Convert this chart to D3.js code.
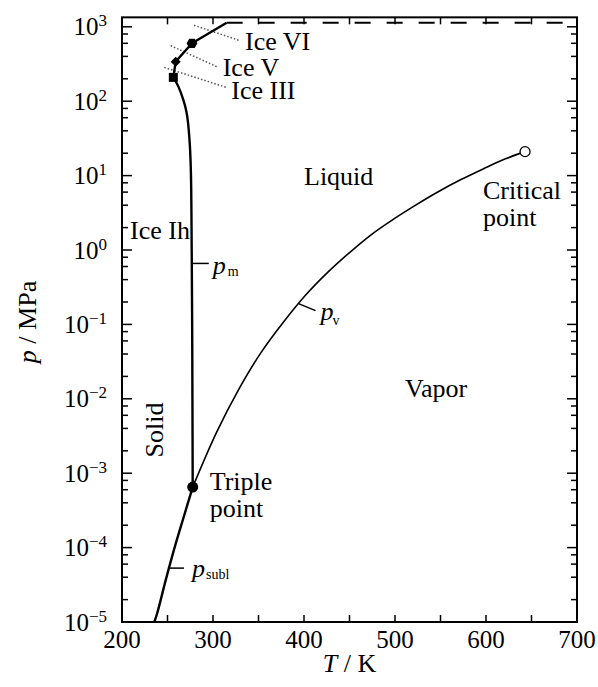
<!DOCTYPE html>
<html>
<head>
<meta charset="utf-8">
<script src="https://cdn.jsdelivr.net/npm/d3@7/dist/d3.min.js"></script>
<style>
    body { margin: 0; background: #fff; }
</style>
</head>
<body>
<div id="chart"></div>
<script>
//melting curve of ice Ih, triple point up to ice III [T (K), p (MPa)]
var meltIh = [[277.7, 6.5e-4], [277.4, 0.01], [277.1, 0.1], [276.6, 1], [275.8, 10], [274.6, 25],
    [272.2, 56], [270.5, 75], [267.4, 104], [262.0, 157], [256.4, 209]];

//melting curve above ice III (III, V, VI, upper end)
var meltHigh = [[256.4, 209], [259.0, 340], [276.9, 600], [315.0, 1135]];

//vapor pressure curve, triple point to critical point
var vapor = [[277.7, 6.5e-4], [303.9, 3.54e-3], [328.3, 1.34e-2], [352.7, 4.17e-2], [377.1, 0.106],
    [401.6, 0.246], [426.0, 0.50], [450.4, 0.932], [474.8, 1.64], [499.2, 2.64], [523.6, 4.08],
    [548.0, 6.12], [572.5, 8.84], [596.9, 12.3], [621.3, 16.8], [642.9, 21.0]];

//sublimation curve
var sublimation = [[235.5, 1e-5], [238.6, 1.3e-5], [248.4, 3.8e-5], [258.1, 1.03e-4], [267.9, 2.6e-4], [277.7, 6.5e-4]];

//special points
var triplePoint = [277.7, 6.5e-4];
var criticalPoint = [642.9, 21.0];
var iceIII = [256.4, 209];
var iceV = [259.0, 340];
var iceVI = [276.9, 600];
var upperLimit = [315.0, 1135];

//axis ticks
var xTickLabels = [200, 300, 400, 500, 600, 700];
var xMinorTicks = [250, 350, 450, 550, 650];
var yDecades = [-5, -4, -3, -2, -1, 0, 1, 2, 3];
var yMinorFactors = [2, 4, 6, 8];

var width = 598, height = 687;
var fontBig = 26, fontTick = 25;
var serif = "'Liberation Serif'";

//scales
var x = d3.scaleLinear().domain([200, 700]).range([122, 577]);
var y = d3.scaleLog().domain([1e-5, 1e3]).range([622, 26.8]);
var yTopValue = 1340;

var svg = d3.select('#chart').append('svg')
    .attr('width', width)
    .attr('height', height)
    .style('display', 'block');

//adds a serif text element
var text = function (sel) {
    return sel.append('text').style('font-family', serif);
};

var px = function (d) { return x(d[0]); };
var py = function (d) { return y(d[1]); };

//frame
var x0 = x(200), x1 = x(700), yb = y(1e-5), yt = y(yTopValue);

//dashed upper boundary
svg.append('line')
    .attr('x1', x(upperLimit[0])).attr('x2', x1)
    .attr('y1', y(upperLimit[1])).attr('y2', y(upperLimit[1]))
    .attr('stroke', '#000').attr('stroke-width', 2)
    .attr('stroke-dasharray', '16,16');

//y ticks, left and right
var yTickData = [];
yDecades.forEach(function (n) {
    yTickData.push({ v: Math.pow(10, n), major: true });
    if (n < 3)
        yMinorFactors.forEach(function (k) { yTickData.push({ v: k * Math.pow(10, n), major: false }); });
});
yTickData = yTickData.filter(function (d) { return d.v <= yTopValue; });

var tickG = svg.append('g').attr('stroke', '#000').attr('stroke-width', 1.5);
yTickData.forEach(function (d) {
    var len = d.major ? 10 : 6;
    tickG.append('line').attr('x1', x0).attr('x2', x0 + len).attr('y1', y(d.v)).attr('y2', y(d.v));
    tickG.append('line').attr('x1', x1).attr('x2', x1 - len).attr('y1', y(d.v)).attr('y2', y(d.v));
});

//x ticks, bottom and top
xTickLabels.concat(xMinorTicks).forEach(function (t) {
    tickG.append('line').attr('x1', x(t)).attr('x2', x(t)).attr('y1', yb).attr('y2', yb - 7);
    tickG.append('line').attr('x1', x(t)).attr('x2', x(t)).attr('y1', yt).attr('y2', yt + 7);
});

//frame box
svg.append('rect')
    .attr('x', x0).attr('y', yt)
    .attr('width', x1 - x0).attr('height', yb - yt)
    .attr('fill', 'none').attr('stroke', '#000').attr('stroke-width', 2);

//y tick labels
yDecades.forEach(function (n) {
    var t = text(svg)
        .attr('x', 107).attr('y', y(Math.pow(10, n)) + 8.5)
        .attr('text-anchor', 'end')
        .attr('font-size', fontTick);
    t.append('tspan').text('10');
    t.append('tspan').attr('font-size', 17).attr('dy', -9).text(String(n).replace('-', '\u2212'));
});

//x tick labels
xTickLabels.forEach(function (t) {
    text(svg)
        .attr('x', x(t)).attr('y', 648)
        .attr('text-anchor', 'middle')
        .attr('font-size', fontTick)
        .text(t);
});

//axis titles
var xTitle = text(svg)
    .attr('x', (x0 + x1) / 2).attr('y', 672)
    .attr('text-anchor', 'middle')
    .attr('font-size', fontBig);
xTitle.append('tspan').attr('font-style', 'italic').text('T');
xTitle.append('tspan').text(' / K');

var yTitle = text(svg)
    .attr('transform', 'translate(36,322) rotate(-90)')
    .attr('text-anchor', 'middle')
    .attr('font-size', fontBig);
yTitle.append('tspan').attr('font-style', 'italic').text('p');
yTitle.append('tspan').text(' / MPa');

//leader lines for ice phases
var dotted = svg.append('g')
    .attr('stroke', '#555').attr('stroke-width', 1.5)
    .attr('stroke-dasharray', '1.5,2');
var addLeader = function (pt, a, b) {
    dotted.append('line')
        .attr('x1', x(pt[0]) + a[0]).attr('y1', y(pt[1]) + a[1])
        .attr('x2', x(pt[0]) + b[0]).attr('y2', y(pt[1]) + b[1]);
};
addLeader(iceIII, [-9, -10], [53, 10]);
addLeader(iceV, [-5, -16], [41, 5]);
addLeader(iceVI, [2, -18], [47, -3]);

//curves
var smooth = d3.line().x(px).y(py).curve(d3.curveCatmullRom);
var straight = d3.line().x(px).y(py);

svg.append('path').datum(vapor)
    .attr('d', smooth).attr('fill', 'none').attr('stroke', '#000').attr('stroke-width', 1.6);
svg.append('path').datum(sublimation)
    .attr('d', smooth).attr('fill', 'none').attr('stroke', '#000').attr('stroke-width', 2.4);
svg.append('path').datum(meltIh)
    .attr('d', smooth).attr('fill', 'none').attr('stroke', '#000').attr('stroke-width', 2.4);
svg.append('path').datum(meltHigh)
    .attr('d', straight).attr('fill', 'none').attr('stroke', '#000').attr('stroke-width', 2.4)
    .attr('stroke-linejoin', 'round');

//curve label leaders
var leaderG = svg.append('g').attr('stroke', '#000').attr('stroke-width', 1.5);
var labelCurve = function (pt, dx, dy, sub, tx, ty, sx, sy) {
    var cx = x(pt[0]), cy = y(pt[1]);
    leaderG.append('line').attr('x1', cx).attr('y1', cy).attr('x2', cx + dx).attr('y2', cy + dy);
    text(svg).attr('x', cx + tx).attr('y', cy + ty)
        .attr('font-size', fontBig).attr('font-style', 'italic').text('p');
    text(svg).attr('x', cx + sx).attr('y', cy + sy)
        .attr('font-size', 14).text(sub);
};
labelCurve([276.7, 0.66], 17, 0, 'm', 21, 11, 36, 13);
labelCurve([394.0, 0.19], 17, 7, 'v', 22, 16, 34, 21);
labelCurve([251.6, 5.3e-5], 15, 0, 'subl', 23, 9, 37, 11);

//markers
svg.append('path')
    .attr('d', d3.symbol().type(d3.symbolSquare).size(81))
    .attr('transform', 'translate(' + x(iceIII[0]) + ',' + y(iceIII[1]) + ')');
svg.append('path')
    .attr('d', d3.symbol().type(d3.symbolSquare).size(50))
    .attr('transform', 'translate(' + x(iceV[0]) + ',' + y(iceV[1]) + ') rotate(45)');
var hex = d3.range(6).map(function (i) {
    var a = i * Math.PI / 3;
    return [x(iceVI[0]) + 5.4 * Math.cos(a), y(iceVI[1]) + 5.4 * Math.sin(a)];
});
svg.append('path').attr('d', d3.line()(hex) + 'Z');

svg.append('circle')
    .attr('cx', x(triplePoint[0])).attr('cy', y(triplePoint[1])).attr('r', 5.5);
svg.append('circle')
    .attr('cx', x(criticalPoint[0])).attr('cy', y(criticalPoint[1])).attr('r', 5)
    .attr('fill', '#fff').attr('stroke', '#000').attr('stroke-width', 1.3);

//text labels
var addText = function (tx, ty, s, rot) {
    var t = text(svg).attr('font-size', fontBig).text(s);
    if (rot)
        t.attr('transform', 'translate(' + tx + ',' + ty + ') rotate(-90)').attr('text-anchor', 'middle');
    else
        t.attr('x', tx).attr('y', ty);
    return t;
};
addText(x(iceVI[0]) + 53, y(iceVI[1]) + 7, 'Ice VI');
addText(x(iceV[0]) + 47, y(iceV[1]) + 14, 'Ice V');
addText(x(iceIII[0]) + 58, y(iceIII[1]) + 22, 'Ice III');
addText(x(triplePoint[0]) + 17, y(triplePoint[1]) + 3, 'Triple');
addText(x(triplePoint[0]) + 17, y(triplePoint[1]) + 30, 'point');
addText(x(criticalPoint[0]) - 42, y(criticalPoint[1]) + 47, 'Critical');
addText(x(criticalPoint[0]) - 42, y(criticalPoint[1]) + 74, 'point');
addText(x(400), y(7.5), 'Liquid');
addText(x(208.8), y(1.39), 'Ice Ih');
addText(x(511), y(0.0106), 'Vapor');
addText(x(245), y(3.8e-3), 'Solid', true);
</script>
</body>
</html>
